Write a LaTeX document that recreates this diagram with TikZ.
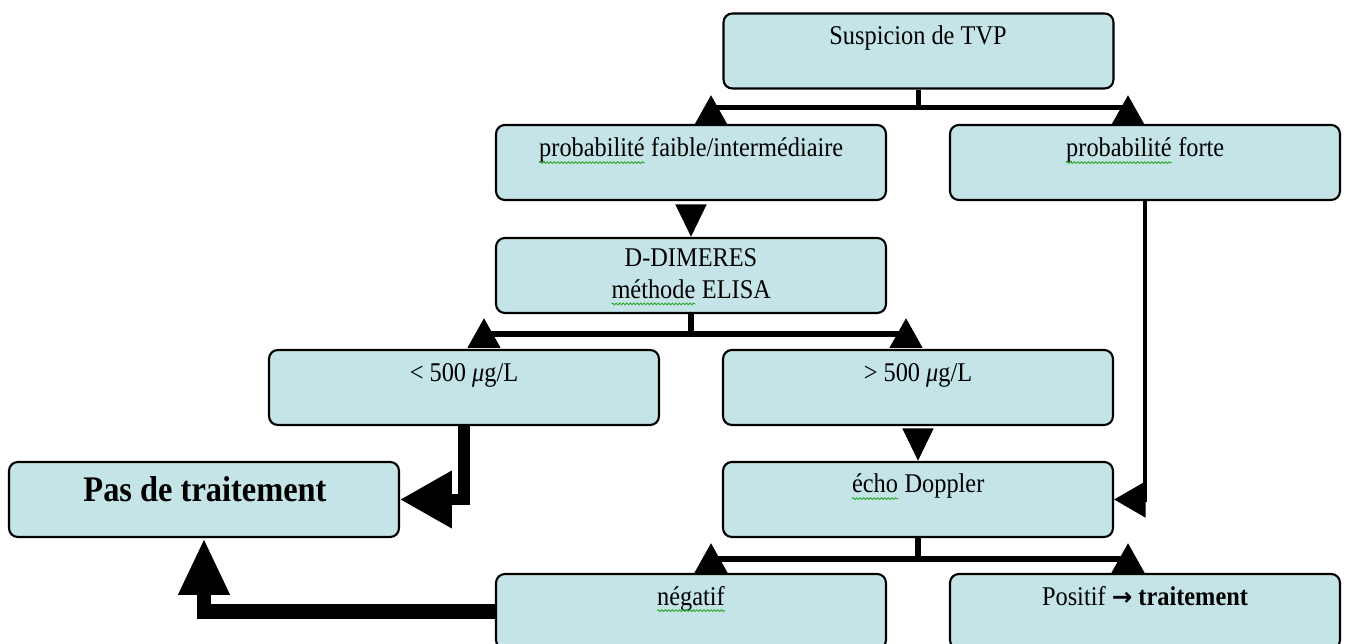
\documentclass[tikz,border=0pt]{standalone}
\usepackage{fontspec}
\setmainfont{Liberation Serif}[FakeStretch=0.9]
\newfontfamily\arrowfont{DejaVu Sans}
\usetikzlibrary{arrows.meta,decorations.pathmorphing}
\definecolor{boxfill}{RGB}{196,228,231}
\definecolor{squig}{RGB}{40,170,40}
\newcommand\spellwave[1]{\tikz[baseline=(sw.base)]{\node[inner sep=0pt,outer sep=0pt] (sw) {#1};%
  \draw[squig, line width=0.5pt, decorate, decoration={snake, amplitude=0.5pt, segment length=2pt}]
  ([yshift=-3.2pt]sw.base west) -- ([yshift=-3.2pt]sw.base east);}}
\tikzset{
  box/.style={draw=black, line width=1.2pt, rounded corners=5pt, fill=boxfill,
    minimum width=7.8cm, minimum height=1.5cm, inner sep=0pt},
  lbl/.style={font=\fontsize{15.4}{18}\selectfont, inner sep=0pt, anchor=base, align=center},
  biglbl/.style={font=\fontsize{20.5}{22}\selectfont\bfseries, inner sep=0pt, anchor=base},
  conn/.style={line width=3.2pt, -{Triangle[length=17pt,width=18pt]}},
  connv/.style={line width=3pt, shorten <=2.3pt, -{Triangle[length=18.5pt,width=17pt]}},
  connF/.style={line width=2.8pt, -{Triangle[length=18pt,width=20pt]}},
  thickA/.style={line width=6.8pt, -{Triangle[length=29.5pt,width=31pt]}},
  thickB/.style={line width=8.5pt, -{Triangle[length=32.3pt,width=27pt]}},
}
\begin{document}
\begin{tikzpicture}[x=0.02cm,y=-0.02cm]
\useasboundingbox (0,0) rectangle (1348,644);

% boxes
\node[box] (s)    at (918.5,51)   {};
\node[box] (pf)   at (691,162.5)  {};
\node[box] (pF)   at (1145,162.5) {};
\node[box] (dd)   at (691,275.5)  {};
\node[box] (lt)   at (464,387.5)  {};
\node[box] (gt)   at (918,387.5)  {};
\node[box] (pas)  at (204,499.5)  {};
\node[box] (echo) at (918,499.5)  {};
\node[box] (neg)  at (691,611.5)  {};
\node[box] (pos)  at (1145,611.5) {};

% texts
\node[lbl] (t-s)    at (918,45)   {Suspicion de TVP};
\node[lbl] (t-pf)   at (691,157)  {\spellwave{probabilité} faible/intermédiaire};
\node[lbl] (t-pF)   at (1145,157) {\spellwave{probabilité} forte};
\node[lbl, anchor=center] (t-dd) at (691,277) {D-DIMERES\\\spellwave{méthode} ELISA};
\node[lbl] (t-lt)   at (464,382)  {< 500 \textit{μ}g/L};
\node[lbl] (t-gt)   at (918,382)  {> 500 \textit{μ}g/L};
\node[biglbl] (t-pas) at (205,502) {Pas de traitement};
\node[lbl] (t-echo) at (918,493)  {\spellwave{écho} Doppler};
\node[lbl] (t-neg)  at (691,605)  {\spellwave{négatif}};
\node[lbl] (t-pos)  at (1145,605) {Positif {\arrowfont\bfseries\fontsize{14}{16}\selectfont →} \textbf{traitement}};

% branch coordinates
\coordinate (a1) at (711,95);
\coordinate (a2) at (1128,95);
\coordinate (b1) at (484,318);
\coordinate (b2) at (906,318);
\coordinate (c1) at (711,543);
\coordinate (c2) at (1128,543);

% connectors
\draw[conn] (s.south) -- ++(0,18) -| (a1);
\draw[conn] (s.south) -- ++(0,18) -| (a2);
\draw[connv] (pf.south) -- (dd.north);
\draw[conn] (dd.south) -- ++(0,20) -| (b1);
\draw[conn] (dd.south) -- ++(0,20) -| (b2);
\draw[connv] (gt.south) -- (echo.north);
\draw[connF] (pF.south) |- (echo.east);
\draw[thickA] (lt.south) |- (pas.east);
\draw[conn] (echo.south) -- ++(0,21) -| (c1);
\draw[conn] (echo.south) -- ++(0,21) -| (c2);
\draw[thickB] (neg.west) -| (pas.south);
\end{tikzpicture}
\end{document}
